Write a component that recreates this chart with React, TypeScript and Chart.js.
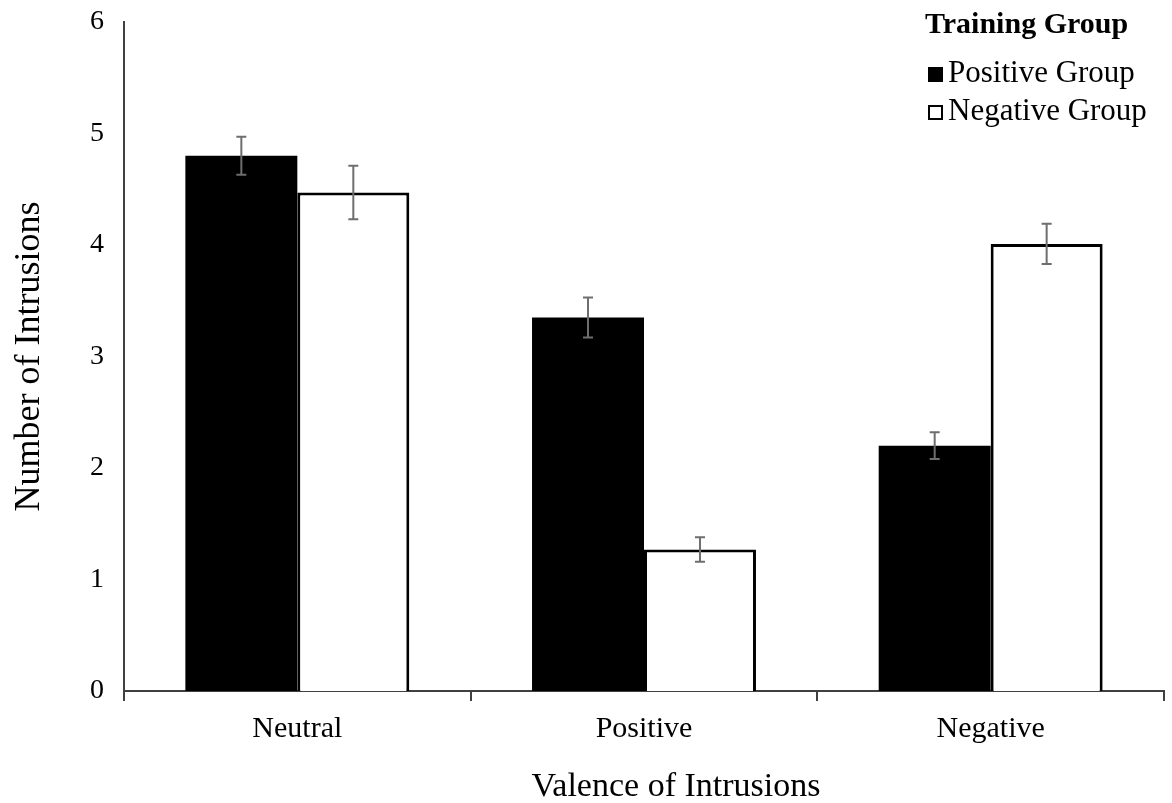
import React, { useEffect, useRef } from "react";
import { Chart, registerables } from "chart.js";

Chart.register(...registerables);

const categories = ["Neutral", "Positive", "Negative"];
const positiveGroup = [4.8, 3.35, 2.2];
const negativeGroup = [4.47, 1.27, 4.01];
const positiveErr = [0.17, 0.18, 0.12];
const negativeErr = [0.24, 0.11, 0.18];
const yTicks = [0, 1, 2, 3, 4, 5, 6];
const legendTitle = "Training Group";
const seriesNames = ["Positive Group", "Negative Group"];
const xTitle = "Valence of Intrusions";
const yTitle = "Number of Intrusions";

const FONT = '"Liberation Serif", "Times New Roman", serif';

const errorBarPlugin = {
  id: "errorBars",
  afterDatasetsDraw(chart: any) {
    const ctx = chart.ctx;
    const yScale = chart.scales.y;
    const errs = [positiveErr, negativeErr];
    ctx.save();
    ctx.strokeStyle = "#6e6e6e";
    ctx.lineWidth = 2;
    chart.data.datasets.forEach((ds: any, di: number) => {
      const meta = chart.getDatasetMeta(di);
      meta.data.forEach((bar: any, i: number) => {
        const v = ds.data[i];
        const e = errs[di][i];
        const x = bar.x;
        const yTop = yScale.getPixelForValue(v + e);
        const yBot = yScale.getPixelForValue(v - e);
        const cap = 5;
        ctx.beginPath();
        ctx.moveTo(x, yTop);
        ctx.lineTo(x, yBot);
        ctx.moveTo(x - cap, yTop);
        ctx.lineTo(x + cap, yTop);
        ctx.moveTo(x - cap, yBot);
        ctx.lineTo(x + cap, yBot);
        ctx.stroke();
      });
    });
    ctx.restore();
  },
};

const legendPlugin = {
  id: "customLegend",
  afterDraw(chart: any) {
    const ctx = chart.ctx;
    ctx.save();
    ctx.fillStyle = "#000";
    ctx.textBaseline = "alphabetic";
    ctx.textAlign = "left";
    ctx.font = `bold 30px ${FONT}`;
    ctx.fillText(legendTitle, 925, 33);
    ctx.font = `31px ${FONT}`;
    ctx.fillRect(928, 67, 15, 15);
    ctx.fillText(seriesNames[0], 948, 82);
    ctx.strokeStyle = "#000";
    ctx.lineWidth = 2;
    ctx.strokeRect(929, 106, 13, 13);
    ctx.fillText(seriesNames[1], 948, 120);
    // x-axis title (offset to the right as in the original)
    ctx.font = `34px ${FONT}`;
    ctx.textAlign = "center";
    ctx.textBaseline = "middle";
    ctx.fillText(xTitle, 676, 787);
    ctx.restore();
  },
};

export default function App() {
  const ref = useRef<HTMLCanvasElement | null>(null);

  useEffect(() => {
    document.body.style.margin = "0";
    const canvas = ref.current;
    if (!canvas) return;
    const chart = new Chart(canvas, {
      type: "bar",
      data: {
        labels: categories,
        datasets: [
          {
            label: seriesNames[0],
            data: positiveGroup,
            backgroundColor: "#000000",
            borderWidth: 0,
            categoryPercentage: 0.646,
            barPercentage: 1.0,
          },
          {
            label: seriesNames[1],
            data: negativeGroup,
            backgroundColor: "#ffffff",
            borderColor: "#000000",
            borderWidth: 3,
            categoryPercentage: 0.646,
            barPercentage: 1.0,
          },
        ],
      },
      options: {
        responsive: false,
        animation: false,
        layout: { padding: { top: 22, right: 8, bottom: 0, left: 0 } },
        plugins: {
          legend: { display: false },
          tooltip: { enabled: false },
        },
        scales: {
          x: {
            offset: true,
            grid: {
              offset: true,
              drawOnChartArea: false,
              drawTicks: true,
              tickLength: 10,
              color: "#404040",
              lineWidth: 2,
            },
            border: { display: true, color: "#404040", width: 2 },
            ticks: {
              color: "#000",
              font: { family: FONT, size: 30 },
              padding: 10,
            },
            title: { display: false },
            afterFit(scale: any) {
              scale.height = 112;
              scale.paddingTop = 0;
              scale.paddingBottom = 0;
            },
          },
          y: {
            min: 0,
            max: 6,
            afterBuildTicks(scale: any) {
              scale.ticks = yTicks.map((v) => ({ value: v }));
            },
            grid: { display: false, drawTicks: false },
            border: { display: true, color: "#404040", width: 2 },
            ticks: {
              color: "#000",
              font: { family: FONT, size: 28 },
              padding: 20,
            },
            title: {
              display: true,
              text: yTitle,
              color: "#000",
              font: { family: FONT, size: 36, lineHeight: 1.2 },
              padding: { top: 8, bottom: 0 },
            },
            afterFit(scale: any) {
              scale.width = 124;
              scale.paddingTop = 0;
              scale.paddingBottom = 0;
            },
          },
        },
      },
      plugins: [errorBarPlugin, legendPlugin],
    });
    return () => chart.destroy();
  }, []);

  return (
    <div style={{ width: 1172, height: 803, background: "#fff" }}>
      <canvas ref={ref} width={1172} height={803} style={{ display: "block" }} />
    </div>
  );
}
